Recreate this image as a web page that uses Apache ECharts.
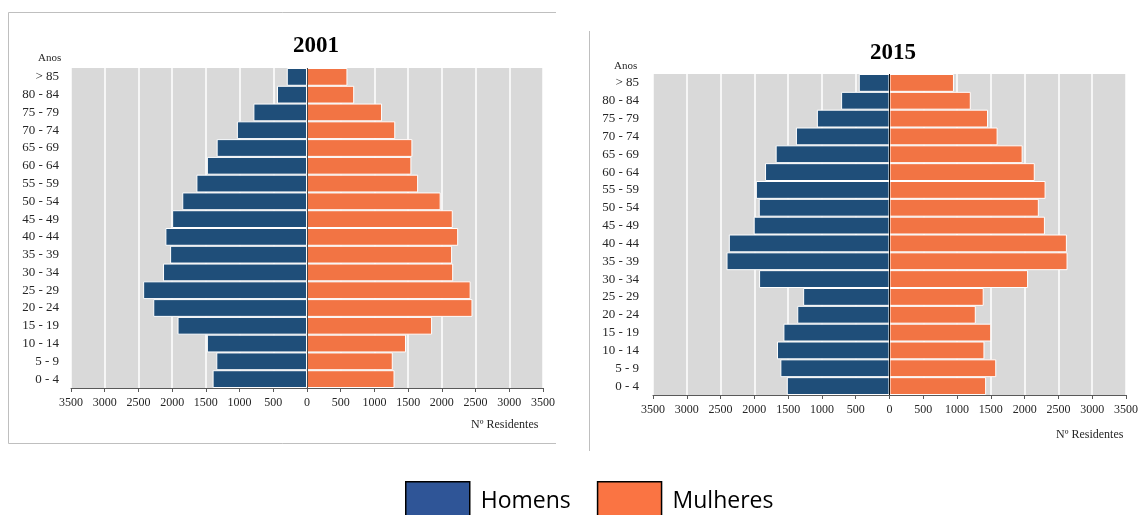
<!DOCTYPE html>
<html>
<head>
<meta charset="utf-8">
<script src="https://cdn.jsdelivr.net/npm/echarts@6/dist/echarts.min.js"></script>
<style>
html,body{margin:0;padding:0;background:#fff;}
#chart{width:1141px;height:515px;}
</style>
</head>
<body>
<div id="chart"></div>
<script>
const ageGroups = ['0 - 4','5 - 9','10 - 14','15 - 19','20 - 24','25 - 29','30 - 34','35 - 39','40 - 44','45 - 49','50 - 54','55 - 59','60 - 64','65 - 69','70 - 74','75 - 79','80 - 84','> 85'];
const men2001 = [1400,1345,1485,1920,2280,2430,2135,2030,2100,2000,1850,1640,1485,1340,1040,795,445,300];
const women2001 = [1298,1272,1468,1855,2454,2427,2168,2152,2242,2162,1982,1648,1548,1563,1309,1113,700,600];
const men2015 = [1520,1615,1665,1570,1365,1278,1930,2412,2378,2010,1935,1978,1842,1685,1385,1075,716,455];
const women2015 = [1430,1580,1405,1505,1277,1394,2051,2635,2625,2300,2210,2310,2150,1970,1600,1458,1203,954];
const xTicks = { min: -3500, max: 3500, interval: 500 };
const titles = ['2001', '2015'];
const legendNames = ['Homens', 'Mulheres'];

const MEN_COLOR = '#1f4e79';
const WOMEN_COLOR = '#f27444';
const SERIF = '"Liberation Serif","Times New Roman",serif';

const chart = echarts.init(document.getElementById('chart'), null, {renderer: 'canvas'});

function xAxisFor(gi) {
  return {
    type: 'value', gridIndex: gi,
    min: xTicks.min, max: xTicks.max, interval: xTicks.interval,
    axisLine: {show: true, onZero: false, lineStyle: {color: '#595959', width: 1}},
    axisTick: {show: true, length: 4, lineStyle: {color: '#595959'}},
    axisLabel: {color: '#262626', fontFamily: SERIF, fontSize: 12, margin: 9,
      formatter: v => String(Math.abs(v))},
    splitLine: {show: true, lineStyle: {color: '#ffffff', width: 1.5}}
  };
}
function yAxisFor(gi, margin) {
  return {
    type: 'category', gridIndex: gi, data: ageGroups,
    axisLine: {show: false}, axisTick: {show: false},
    axisLabel: {color: '#262626', fontFamily: SERIF, fontSize: 13, margin: margin},
    splitLine: {show: false}
  };
}
function barSeries(name, data, gi, color, neg, zeroColor) {
  const s = {
    name: name, type: 'bar', xAxisIndex: gi, yAxisIndex: gi,
    data: neg ? data.map(v => -v) : data,
    barCategoryGap: '0%', barGap: '-100%',
    itemStyle: {color: color, borderColor: '#ffffff', borderWidth: 1},
    emphasis: {disabled: true}
  };
  if (zeroColor) {
    s.markLine = {silent: true, symbol: 'none', label: {show: false},
      lineStyle: {color: zeroColor, width: 1, type: 'solid'},
      data: [{xAxis: 0}], animation: false};
  }
  return s;
}

const option = {
  animation: false,
  backgroundColor: '#ffffff',
  title: [
    {text: titles[0], left: 311, top: 30, textAlign: 'center',
      textStyle: {fontFamily: SERIF, fontWeight: 'bold', fontSize: 23, color: '#000'}},
    {text: titles[1], left: 888, top: 37, textAlign: 'center',
      textStyle: {fontFamily: SERIF, fontWeight: 'bold', fontSize: 23, color: '#000'}},
    {text: 'Anos', left: 33, top: 48, textStyle: {fontFamily: SERIF, fontWeight: 'normal', fontSize: 11, color: '#262626'}},
    {text: 'Anos', left: 609, top: 56, textStyle: {fontFamily: SERIF, fontWeight: 'normal', fontSize: 11, color: '#262626'}},
    {text: 'Nº Residentes', left: 466, top: 414, textStyle: {fontFamily: SERIF, fontWeight: 'normal', fontSize: 12, color: '#262626'}},
    {text: 'Nº Residentes', left: 1051, top: 424, textStyle: {fontFamily: SERIF, fontWeight: 'normal', fontSize: 12, color: '#262626'}}
  ],
  legend: {
    data: [
      {name: legendNames[0], itemStyle: {color: '#2f5597', borderColor: '#000', borderWidth: 1.5}},
      {name: legendNames[1], itemStyle: {color: '#fa7443', borderColor: '#000', borderWidth: 1.5}}
    ],
    left: 405, top: 481, padding: 0, icon: 'rect', itemWidth: 64, itemHeight: 40, itemGap: 26,
    selectedMode: false,
    textStyle: {fontFamily: '"Open Sans","Noto Sans",sans-serif', fontSize: 23, color: '#000', padding: [12,0,0,6]}
  },
  graphic: [
    {type: 'polyline', silent: true, shape: {points: [[556, 12.5], [8.5, 12.5], [8.5, 443.5], [556, 443.5]]},
      style: {stroke: '#bfbfbf', lineWidth: 1, fill: null}},
    {type: 'line', silent: true, shape: {x1: 589.5, y1: 31, x2: 589.5, y2: 451},
      style: {stroke: '#bfbfbf', lineWidth: 1}}
  ],
  grid: [
    {left: 71, right: 598, top: 68, bottom: 127, show: true, backgroundColor: '#d9d9d9', borderWidth: 0, containLabel: false},
    {left: 653, right: 12, top: 74, bottom: 120, show: true, backgroundColor: '#d9d9d9', borderWidth: 0, containLabel: false}
  ],
  xAxis: [xAxisFor(0), xAxisFor(1)],
  yAxis: [yAxisFor(0, 12), yAxisFor(1, 14)],
  series: [
    barSeries(legendNames[0], men2001, 0, MEN_COLOR, true, '#4a4a4a'),
    barSeries(legendNames[1], women2001, 0, WOMEN_COLOR, false),
    barSeries(legendNames[0], men2015, 1, MEN_COLOR, true, '#111111'),
    barSeries(legendNames[1], women2015, 1, WOMEN_COLOR, false)
  ]
};
chart.setOption(option);
</script>
</body>
</html>
